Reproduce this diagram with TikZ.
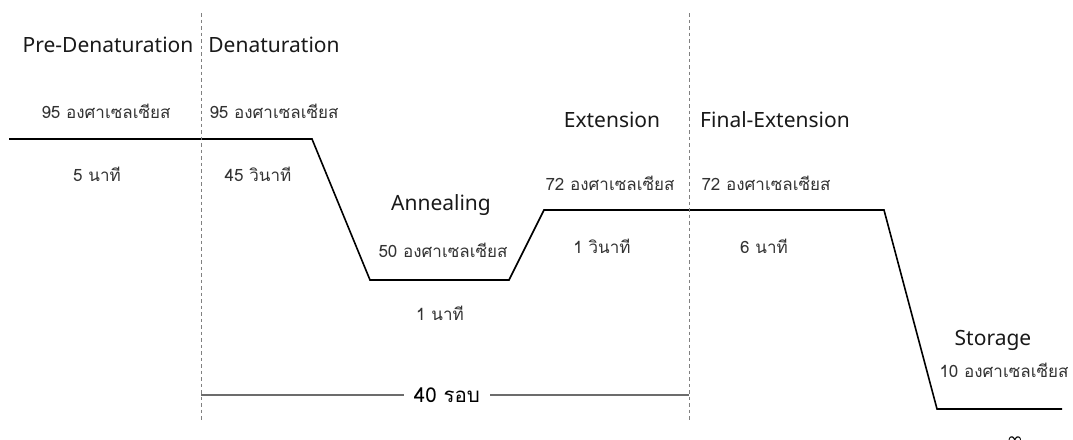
\documentclass[tikz,border=0pt]{standalone}
\usepackage{fontspec}
\setmainfont{Noto Sans}
\newfontfamily\thaifont[Script=Thai]{Loma}
\newfontfamily\symbfont{DejaVu Sans}

\begin{document}
\begin{tikzpicture}[x=1pt,y=-1pt,
  stage/.style={font=\fontsize{21}{23}\selectfont, anchor=base, inner sep=0pt, text=black!90},
  temp/.style={font=\thaifont\fontsize{17}{19}\selectfont, anchor=base, inner sep=0pt, text=black!80},
  profile/.style={line width=1.6pt, line join=miter},
  phase/.style={gray, dash pattern=on 3.5pt off 3pt, line width=1pt},
  cyclebar/.style={gray!85!black, line width=1.3pt}]
\useasboundingbox (0,0) rectangle (1073,439);

% temperature profile corners
\coordinate (p0) at (9,139);
\coordinate (p1) at (312,139);
\coordinate (p2) at (370,280);
\coordinate (p3) at (509,280);
\coordinate (p4) at (544,210);
\coordinate (p5) at (884,210);
\coordinate (p6) at (937,409);
\coordinate (p7) at (1062,409);
\draw[profile] (p0) -- (p1) -- (p2) -- (p3) -- (p4) -- (p5) -- (p6) -- (p7);

% cycle boundaries
\coordinate (d1t) at (201,13);
\coordinate (d1b) at (201,420);
\coordinate (d2t) at (689,13);
\coordinate (d2b) at (689,420);
\draw[phase] (d1t) -- (d1b);
\draw[phase] (d2t) -- (d2b);

% cycle count
\coordinate (c1) at (201,395);
\coordinate (c2) at (689,395);
\node[temp, font=\thaifont\fontsize{20.5}{22}\selectfont, text=black, inner xsep=10pt] (cyc) at (447,402) {40 รอบ};
\draw[cyclebar] (c1) -- (c1 -| cyc.west);
\draw[cyclebar] (c2 -| cyc.east) -- (c2);

% stage names
\node[stage] (pre) at (108,52) {Pre-Denaturation};
\node[stage] (den) at (274,52) {Denaturation};
\node[stage] (ann) at (441,210) {Annealing};
\node[stage] (ext) at (612,127) {Extension};
\node[stage] (fin) at (775,127) {Final-Extension};
\node[stage] (sto) at (993,345) {Storage};

% temperatures
\node[temp] (preT) at (106,118) {95 องศาเซลเซียส};
\node[temp] (denT) at (274,118) {95 องศาเซลเซียส};
\node[temp] (annT) at (443,257) {50 องศาเซลเซียส};
\node[temp] (extT) at (610,190) {72 องศาเซลเซียส};
\node[temp] (finT) at (766,190) {72 องศาเซลเซียส};
\node[temp] (stoT) at (1004,377) {10 องศาเซลเซียส};

% times
\node[temp] (preTime) at (97,181) {5 นาที};
\node[temp] (denTime) at (258,181) {45 วินาที};
\node[temp] (annTime) at (440,320) {1 นาที};
\node[temp] (extTime) at (602,253) {1 วินาที};
\node[temp] (finTime) at (764,253) {6 นาที};
\node[anchor=base, inner sep=0pt, font=\symbfont\fontsize{20}{22}\selectfont] (inf) at (1015,446) {∞};
\end{tikzpicture}
\end{document}
